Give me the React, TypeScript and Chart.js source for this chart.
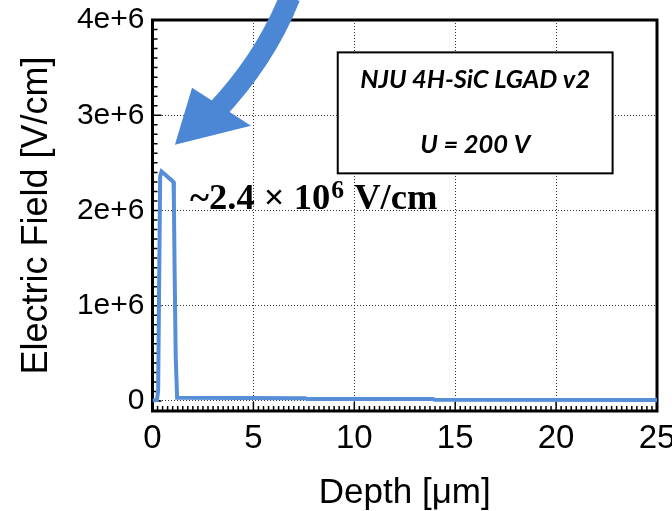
import React, { useEffect, useRef } from "react";
import { Chart, registerables } from "chart.js";
Chart.register(...registerables);

// ---- data (depth in µm, electric field in V/cm) ----
const depthUm = [0, 0.22, 0.28, 0.38, 0.45, 1.04, 1.06, 1.1, 1.15, 1.22, 7.55, 7.65, 13.9, 14.0, 25];
const fieldVcm = [5e3, 1e4, 1.1e5, 2.36e6, 2.41e6, 2.3e6, 2.1e6, 1.3e6, 4.7e5, 3.5e4, 3.0e4, 2.2e4, 2.0e4, 1.2e4, 1.0e4];

const xTickValues = [0, 5, 10, 15, 20, 25];
const xTickLabels = ["0", "5", "10", "15", "20", "25"];
const yTickValues = [0, 1e6, 2e6, 3e6, 4e6];
const yTickLabels = ["0", "1e+6", "2e+6", "3e+6", "4e+6"];

const xTitle = "Depth [μm]";
const yTitle = "Electric Field [V/cm]";
const boxLines = ["NJU 4H-SiC LGAD v2", "U = 200 V"];
const noteParts = ["~2.4 × 10", "6", " V/cm"];

const LINE_COLOR = "rgb(86,142,216)";
const ARROW_COLOR = "rgb(76,135,214)";
const SANS = "'Liberation Sans', Arial, Helvetica, sans-serif";

const decor = {
  id: "decor",
  beforeDatasetsDraw(chart: any) {
    const { ctx, chartArea: a, scales } = chart;
    const xs = scales.x, ys = scales.y;
    ctx.save();
    ctx.strokeStyle = "#000";
    // inward ticks
    ctx.lineWidth = 1.5;
    ctx.beginPath();
    for (let i = 0; i <= 40; i++) {
      const v = i * 1e5;
      const py = ys.getPixelForValue(v);
      const len = i % 10 === 0 ? 9 : 5;
      ctx.moveTo(a.left, py);
      ctx.lineTo(a.left + len, py);
    }
    for (let i = 0; i <= 100; i++) {
      const v = i * 0.25;
      const px = xs.getPixelForValue(v);
      const len = i % 20 === 0 ? 9 : 5;
      ctx.moveTo(px, a.bottom);
      ctx.lineTo(px, a.bottom - len);
    }
    ctx.stroke();
    // frame
    ctx.lineWidth = 3;
    ctx.strokeRect(a.left, a.top, a.right - a.left, a.bottom - a.top);
    ctx.restore();
  },
  afterDraw(chart: any) {
    const { ctx, scales } = chart;
    const X = (v: number) => scales.x.getPixelForValue(v);
    const Y = (v: number) => scales.y.getPixelForValue(v);
    ctx.save();

    // text box
    const bx1 = X(9.18), bx2 = X(22.8), by1 = Y(3.66e6), by2 = Y(2.39e6);
    ctx.fillStyle = "#fff";
    ctx.fillRect(bx1, by1, bx2 - bx1, by2 - by1);
    ctx.strokeStyle = "#000";
    ctx.lineWidth = 2;
    ctx.strokeRect(bx1, by1, bx2 - bx1, by2 - by1);
    const boxFam = "Lato, 'Open Sans', sans-serif";
    ctx.font = `italic bold 22px ${boxFam}`;
    const w0 = ctx.measureText(boxLines[0]).width;
    const fs = (22 * 230) / w0;
    ctx.font = `italic bold ${fs}px ${boxFam}`;
    ctx.fillStyle = "#000";
    ctx.textAlign = "center";
    ctx.textBaseline = "alphabetic";
    const cx = (bx1 + bx2) / 2;
    ctx.fillText(boxLines[0], cx, Y(3.29e6));
    ctx.fillText(boxLines[1], cx, Y(2.6e6));

    // peak annotation
    const serif = "'Liberation Serif', 'Times New Roman', serif";
    const base = 28;
    ctx.textAlign = "left";
    ctx.font = `bold ${base}px ${serif}`;
    const m0 = ctx.measureText(noteParts[0]).width;
    const m2 = ctx.measureText(noteParts[2]).width;
    ctx.font = `bold ${base * 0.7}px ${serif}`;
    const m1 = ctx.measureText(noteParts[1]).width;
    const k = 248 / (m0 + m1 + m2 + 2);
    const f = base * k;
    let nx = X(1.86);
    const ny = Y(2.02e6);
    ctx.font = `bold ${f}px ${serif}`;
    ctx.fillText(noteParts[0], nx, ny);
    nx += m0 * k + 1;
    ctx.font = `bold ${f * 0.7}px ${serif}`;
    ctx.fillText(noteParts[1], nx, ny - f * 0.3);
    nx += m1 * k + 1;
    ctx.font = `bold ${f}px ${serif}`;
    ctx.fillText(noteParts[2], nx, ny);

    // curved arrow
    ctx.strokeStyle = ARROW_COLOR;
    ctx.fillStyle = ARROW_COLOR;
    ctx.lineWidth = 21;
    ctx.lineCap = "butt";
    ctx.beginPath();
    ctx.moveTo(X(6.81), Y(4.24e6));
    ctx.quadraticCurveTo(X(5.57), Y(3.58e6), X(3.09), Y(3.03e6));
    ctx.stroke();
    ctx.beginPath();
    ctx.moveTo(X(1.11), Y(2.69e6));
    ctx.lineTo(X(1.96), Y(3.29e6));
    ctx.lineTo(X(4.88), Y(2.89e6));
    ctx.closePath();
    ctx.fill();
    ctx.restore();
  },
};

export default function App() {
  const ref = useRef<HTMLCanvasElement | null>(null);
  useEffect(() => {
    if (!ref.current) return;
    const chart = new Chart(ref.current, {
      type: "line",
      data: {
        datasets: [
          {
            data: depthUm.map((d, i) => ({ x: d, y: fieldVcm[i] })),
            borderColor: LINE_COLOR,
            borderWidth: 4,
            pointRadius: 0,
            tension: 0,
            fill: false,
          },
        ],
      },
      options: {
        animation: false,
        responsive: true,
        maintainAspectRatio: false,
        devicePixelRatio: 1,
        layout: { padding: { top: 20, right: 15, left: 0, bottom: 0 } },
        plugins: { legend: { display: false }, tooltip: { enabled: false } },
        scales: {
          x: {
            type: "linear",
            min: 0,
            max: 25,
            afterBuildTicks: (s: any) => {
              s.ticks = xTickValues.map((v) => ({ value: v }));
            },
            afterFit: (s: any) => {
              s.height = 100;
              s.paddingLeft = 0;
              s.paddingRight = 0;
            },
            ticks: {
              callback: (_v: any, i: number) => xTickLabels[i],
              color: "#000",
              font: { family: SANS, size: 33 },
              padding: 8,
              maxRotation: 0,
            },
            grid: { color: "rgba(0,0,0,0.8)", lineWidth: 1, drawTicks: false },
            border: { display: false, dash: [1, 2] },
            title: {
              display: true,
              text: xTitle,
              color: "#000",
              font: { family: SANS, size: 35, lineHeight: 1 },
              padding: { top: 0, bottom: 0 },
            },
          },
          y: {
            type: "linear",
            min: -1.05e5,
            max: 4e6,
            afterBuildTicks: (s: any) => {
              s.ticks = yTickValues.map((v) => ({ value: v }));
            },
            afterFit: (s: any) => {
              s.width = 152.5;
              s.paddingTop = 0;
              s.paddingBottom = 0;
            },
            ticks: {
              callback: (_v: any, i: number) => yTickLabels[i],
              color: "#000",
              font: { family: SANS, size: 30 },
              padding: 8,
            },
            grid: { color: "rgba(0,0,0,0.8)", lineWidth: 1, drawTicks: false },
            border: { display: false, dash: [1, 2] },
            title: {
              display: true,
              text: yTitle,
              color: "#000",
              font: { family: SANS, size: 36, lineHeight: 1 },
              padding: { top: 19, bottom: 0 },
            },
          },
        },
      },
      plugins: [decor],
    } as any);
    return () => chart.destroy();
  }, []);
  return (
    <div style={{ position: "fixed", left: 0, top: 0, width: 672, height: 511, background: "#fff" }}>
      <canvas ref={ref} />
    </div>
  );
}
